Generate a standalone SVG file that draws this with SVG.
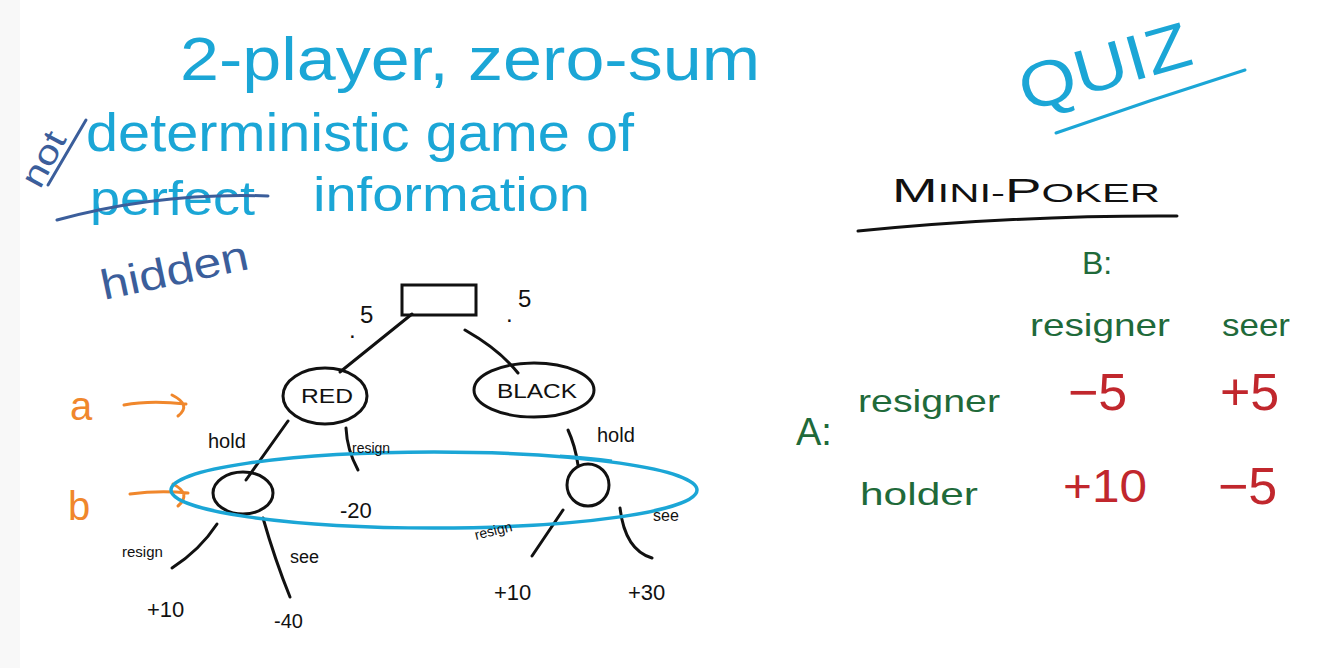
<svg xmlns="http://www.w3.org/2000/svg" width="1336" height="668" viewBox="0 0 1336 668">
<defs>
<style>
.t{font-family:"Liberation Sans","DejaVu Sans",sans-serif;}
.cy{fill:#1ba6d6}
.db{fill:#3b5e9b}
.or{fill:#f0872c}
.gr{fill:#1f6a3a}
.rd{fill:#c1272d}
.bk{fill:#111}
.ln{fill:none;stroke:#111;stroke-width:3;stroke-linecap:round}
</style>
</defs>
<rect width="1336" height="668" fill="#ffffff"/>
<rect width="20" height="668" fill="#f8f8f8"/>

<g id="heading">
<text class="t cy" x="180" y="80" font-size="62" textLength="580" lengthAdjust="spacingAndGlyphs">2-player, zero-sum</text>
<text class="t cy" x="86" y="151" font-size="54" textLength="548" lengthAdjust="spacingAndGlyphs">deterministic game of</text>
<text class="t cy" x="90" y="215" font-size="48" textLength="165" lengthAdjust="spacingAndGlyphs">perfect</text>
<text class="t cy" x="313" y="211" font-size="48" textLength="277" lengthAdjust="spacingAndGlyphs">information</text>
<text class="t db" x="0" y="0" font-size="34" transform="translate(40,190) rotate(-62)" textLength="58" lengthAdjust="spacingAndGlyphs">not</text>
<path d="M48 185 L86 120" fill="none" stroke="#3b5e9b" stroke-width="3" stroke-linecap="round"/>
<path d="M57 220 Q160 192 268 196" fill="none" stroke="#3b5e9b" stroke-width="3" stroke-linecap="round"/>
<text class="t db" x="0" y="0" font-size="42" transform="translate(104,300) rotate(-12)" textLength="150" lengthAdjust="spacingAndGlyphs">hidden</text>
</g>

<g id="connectors">
<path class="ln" d="M412 314 L340 372"/>
<path class="ln" d="M465 330 Q500 350 518 373"/>
<path class="ln" d="M288 421 L246 480"/>
<path class="ln" d="M346 428 Q347 450 358 470"/>
<path class="ln" d="M568 430 Q575 445 578 465"/>
<path class="ln" d="M217 524 Q200 550 172 568"/>
<path class="ln" d="M263 518 Q275 560 290 597"/>
<path class="ln" d="M563 510 L532 556"/>
<path class="ln" d="M620 508 Q625 550 652 558"/>
<path d="M124 405 Q150 400 186 404 M172 395 Q192 405 178 416" fill="none" stroke="#f0872c" stroke-width="3" stroke-linecap="round"/>
<path d="M130 494 Q160 490 188 493 M173 484 Q192 494 178 506" fill="none" stroke="#f0872c" stroke-width="3" stroke-linecap="round"/>
</g>

<g id="chance">
<rect x="402" y="285" width="74" height="30" fill="none" stroke="#111" stroke-width="3"/>
<text class="t bk" x="349" y="338" font-size="24">.</text>
<text class="t bk" x="360" y="323" font-size="24">5</text>
<text class="t bk" x="506" y="322" font-size="24">.</text>
<text class="t bk" x="518" y="307" font-size="24">5</text>
</g>

<g id="red">
<ellipse cx="325" cy="396" rx="42" ry="28" fill="none" stroke="#111" stroke-width="3"/>
<text class="t bk" x="327" y="403" font-size="20" text-anchor="middle" textLength="52" lengthAdjust="spacingAndGlyphs">RED</text>
</g>

<g id="black">
<ellipse cx="534" cy="390" rx="60" ry="27" fill="none" stroke="#111" stroke-width="3"/>
<text class="t bk" x="537" y="398" font-size="20" text-anchor="middle" textLength="80" lengthAdjust="spacingAndGlyphs">BLACK</text>
</g>

<g id="b-left">
<ellipse cx="243" cy="493" rx="30" ry="21" fill="none" stroke="#111" stroke-width="3"/>
</g>

<g id="b-right">
<ellipse cx="588" cy="485" rx="21" ry="21" fill="none" stroke="#111" stroke-width="3"/>
</g>

<g id="infoset">
<ellipse cx="434" cy="490" rx="263" ry="38" fill="none" stroke="#1ba6d6" stroke-width="3.5"/>
<path d="M560 456 Q590 458 612 461" fill="none" stroke="#1ba6d6" stroke-width="3"/>
</g>

<g id="labels">
<text class="t or" x="70" y="420" font-size="40">a</text>
<text class="t or" x="68" y="520" font-size="40">b</text>
<text class="t bk" x="208" y="448" font-size="20">hold</text>
<text class="t bk" x="352" y="453" font-size="14">resign</text>
<text class="t bk" x="597" y="442" font-size="20">hold</text>
<text class="t bk" x="340" y="518" font-size="22">-20</text>
<text class="t bk" x="122" y="557" font-size="15">resign</text>
<text class="t bk" x="290" y="563" font-size="18">see</text>
<text class="t bk" x="147" y="617" font-size="22">+10</text>
<text class="t bk" x="274" y="628" font-size="20">-40</text>
<text class="t bk" x="0" y="0" font-size="14" transform="translate(476,540) rotate(-14)">resign</text>
<text class="t bk" x="653" y="521" font-size="16">see</text>
<text class="t bk" x="494" y="600" font-size="22">+10</text>
<text class="t bk" x="628" y="600" font-size="22">+30</text>
</g>

<g id="quiz">
<text class="t cy" x="0" y="0" font-size="64" transform="translate(1026,112) rotate(-16)" textLength="176" lengthAdjust="spacingAndGlyphs">QUIZ</text>
<path d="M1056 133 Q1150 100 1245 70" fill="none" stroke="#1ba6d6" stroke-width="3" stroke-linecap="round"/>
</g>

<g id="matrix">
<text class="t bk" x="892" y="202" font-size="26" textLength="268" lengthAdjust="spacingAndGlyphs"><tspan font-size="34">M</tspan>INI-<tspan font-size="34">P</tspan>OKER</text>
<path d="M858 231 Q1020 215 1177 216" fill="none" stroke="#111" stroke-width="3" stroke-linecap="round"/>
<text class="t gr" x="1082" y="274" font-size="32">B:</text>
<text class="t gr" x="1030" y="336" font-size="32" textLength="140" lengthAdjust="spacingAndGlyphs">resigner</text>
<text class="t gr" x="1222" y="336" font-size="32" textLength="68" lengthAdjust="spacingAndGlyphs">seer</text>
<text class="t gr" x="796" y="445" font-size="38">A:</text>
<text class="t gr" x="858" y="412" font-size="32" textLength="142" lengthAdjust="spacingAndGlyphs">resigner</text>
<text class="t gr" x="860" y="505" font-size="32" textLength="118" lengthAdjust="spacingAndGlyphs">holder</text>
<text class="t rd" x="1068" y="410" font-size="52">−5</text>
<text class="t rd" x="1220" y="410" font-size="52">+5</text>
<text class="t rd" x="1063" y="502" font-size="46" textLength="84" lengthAdjust="spacingAndGlyphs">+10</text>
<text class="t rd" x="1218" y="504" font-size="52">−5</text>
</g>
</svg>
